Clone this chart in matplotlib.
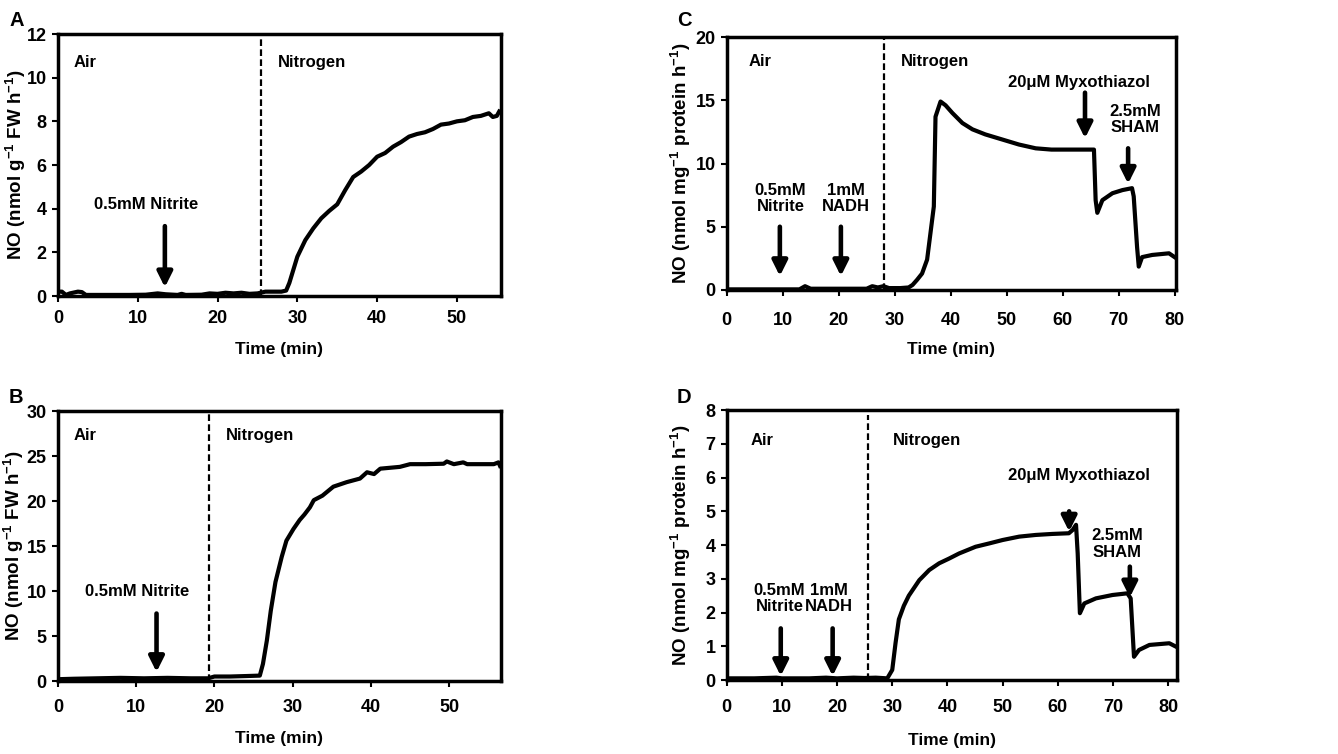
import matplotlib
matplotlib.use("Agg")
import matplotlib.pyplot as plt
from matplotlib import font_manager as fm

names = {f.name for f in fm.fontManager.ttflist}
NARROW = "Liberation Sans Narrow" if "Liberation Sans Narrow" in names else "Liberation Sans"
MAIN = "Liberation Sans"
plt.rcParams["font.family"] = [MAIN, "DejaVu Sans"]
plt.rcParams["font.weight"] = "bold"
plt.rcParams["mathtext.fontset"] = "custom"
plt.rcParams["mathtext.rm"] = "Liberation Sans:bold"
plt.rcParams["mathtext.bf"] = "Liberation Sans:bold"
plt.rcParams["mathtext.default"] = "bf"

# ---------------- data ----------------
# Panel A
a_t = [0, 0.5, 1.0, 1.5, 2.5, 3.0, 3.5, 5, 7, 9, 11, 12.5, 13.5, 15, 15.5, 16, 18, 19, 20, 21, 22, 23, 24, 25, 25.4,
       26, 27, 28, 28.6, 29.0, 29.5, 30, 31, 32, 33, 34, 35, 36, 37, 38, 39, 40, 41, 42, 43, 44, 45, 46, 47, 48,
       49, 50, 51, 52, 53, 54, 54.5, 55.0, 55.3]
a_y = [0.2, 0.2, 0.05, 0.12, 0.2, 0.18, 0.05, 0.05, 0.05, 0.05, 0.06, 0.12, 0.08, 0.05, 0.1, 0.05, 0.06, 0.12, 0.1,
       0.15, 0.12, 0.15, 0.1, 0.12, 0.15, 0.2, 0.2, 0.2, 0.25, 0.6, 1.2, 1.8, 2.56, 3.1, 3.56, 3.9, 4.2, 4.85, 5.45,
       5.7, 6.0, 6.38, 6.55, 6.84, 7.05, 7.3, 7.42, 7.5, 7.65, 7.85, 7.9, 8.0, 8.05, 8.2, 8.25, 8.37, 8.2, 8.25, 8.45]
a_dash = 25.4

# Panel B
b_t = [0, 2, 5, 8, 11, 14, 17, 19.2, 20, 22, 24, 25.8, 26.2, 26.7, 27.2, 27.8, 28.6, 29.2, 30.1, 30.9, 31.5, 32.2,
       32.7, 33.8, 35.2, 36.9, 38.6, 39.5, 40.4, 41.2, 43.7, 45.0, 47, 49.3, 49.7, 50.6, 51.8, 52.3, 54, 55.7, 56.3, 56.5]
b_y = [0.2, 0.25, 0.3, 0.35, 0.3, 0.35, 0.3, 0.3, 0.5, 0.5, 0.55, 0.6, 1.9, 4.5, 7.8, 11.0, 13.8, 15.6, 16.9, 17.9,
       18.5, 19.3, 20.1, 20.6, 21.6, 22.1, 22.5, 23.2, 23.0, 23.6, 23.8, 24.1, 24.1, 24.15, 24.4, 24.1, 24.3, 24.1,
       24.1, 24.1, 24.3, 23.9]
b_dash = 19.25

# Panel C
c_t = [0, 5, 10, 13, 14, 15, 20, 25, 26, 27, 28, 29, 31, 32.5, 33.2, 34.0, 34.9, 35.8, 36.4, 37.0, 37.3, 37.9, 38.2,
       39.1, 40.3, 42.1, 43.9, 46.2, 49.2, 52.2, 55.2, 58, 61.1, 63, 65.6, 65.9, 66.2, 67.1, 68.9, 70.7, 72.4, 72.7,
       73.3, 73.6, 74.2, 76, 79, 80]
c_y = [0.05, 0.05, 0.05, 0.05, 0.3, 0.1, 0.1, 0.1, 0.3, 0.2, 0.3, 0.15, 0.15, 0.2, 0.4, 0.8, 1.3, 2.4, 4.5, 6.6, 13.7,
       14.5, 14.9, 14.6, 14.0, 13.2, 12.7, 12.3, 11.9, 11.5, 11.2, 11.1, 11.1, 11.1, 11.1, 7.1, 6.1, 7.1, 7.65, 7.9,
       8.05, 7.4, 3.4, 1.85, 2.6, 2.77, 2.9, 2.6]
c_dash = 28.1

# Panel D
d_t = [0, 5, 9, 10, 15, 18, 20, 23, 25, 27, 29.1, 30.0, 30.6, 31.2, 32.1, 33.0, 34.9, 36.7, 38.5, 40.3, 42.1, 45.1,
       47.6, 50, 53, 56, 59, 62, 62.7, 63.3, 63.6, 64.0, 64.8, 66.9, 69.9, 72.6, 73.2, 73.8, 74.7, 76.6, 80.2, 81.4]
d_y = [0.05, 0.05, 0.07, 0.05, 0.05, 0.07, 0.05, 0.07, 0.06, 0.07, 0.05, 0.3, 1.1, 1.8, 2.2, 2.5, 2.96, 3.26, 3.46,
       3.6, 3.75, 3.95, 4.05, 4.15, 4.25, 4.3, 4.33, 4.35, 4.45, 4.6, 3.75, 1.98, 2.27, 2.42, 2.52, 2.57, 2.42, 0.69,
       0.89, 1.04, 1.09, 0.99]
d_dash = 25.6

ylab_fw = r"NO (nmol g$^{-1}$ FW h$^{-1}$)"
ylab_pr = r"NO (nmol mg$^{-1}$ protein h$^{-1}$)"

fig = plt.figure(figsize=(13.38, 7.54), dpi=100)

axA = fig.add_axes([0.0433, 0.6074, 0.331, 0.3475])
axC = fig.add_axes([0.5431, 0.6154, 0.3356, 0.3355])
axB = fig.add_axes([0.0433, 0.0968, 0.331, 0.358])
axD = fig.add_axes([0.5431, 0.0981, 0.3366, 0.358])

def style(ax, xlim, ylim, yticks, xticks, ylabel, xpad, ylab_x, xlab_y):
    ax.set_xlim(*xlim)
    ax.set_ylim(*ylim)
    ax.set_xticks(xticks)
    ax.set_yticks(yticks)
    for s in ax.spines.values():
        s.set_linewidth(2.5)
    ax.tick_params(direction="out", length=4.5, width=1.5, labelsize=13)
    ax.tick_params(axis="x", pad=xpad)
    for lab in ax.get_xticklabels() + ax.get_yticklabels():
        lab.set_family(NARROW)
        lab.set_fontweight("bold")
    ax.set_xlabel("Time (min)", fontsize=12.5, fontweight="bold")
    ax.set_ylabel(ylabel, fontsize=13.5, fontweight="bold")
    ax.yaxis.set_label_coords(ylab_x, 0.5)
    ax.xaxis.set_label_coords(0.5, xlab_y)

def arrow(ax, x, y0, y1):
    ax.annotate("", xy=(x, y1), xytext=(x, y0),
                arrowprops=dict(arrowstyle="-|>,head_length=0.9,head_width=0.45", lw=3.3, color="k",
                                shrinkA=0, shrinkB=0))

TXT = dict(fontsize=12, fontweight="bold")
DASH = (0, (3, 1.5))

# A
axA.plot(a_t, a_y, color="k", lw=3)
axA.axvline(a_dash, color="k", lw=1.6, ls=DASH)
style(axA, (0, 55.5), (0, 12), range(0, 13, 2), range(0, 51, 10), ylab_fw, 5.5, -0.068, -0.175)
axA.text(2.0, 10.7, "Air", va="center", **TXT)
axA.text(27.5, 10.7, "Nitrogen", va="center", **TXT)
axA.text(11.1, 4.17, "0.5mM Nitrite", ha="center", va="center", **TXT)
arrow(axA, 13.4, 3.2, 0.4)

# B
axB.plot(b_t, b_y, color="k", lw=3)
axB.axvline(b_dash, color="k", lw=1.6, ls=DASH)
style(axB, (0, 56.6), (0, 30), range(0, 31, 5), range(0, 51, 10), ylab_fw, 8.5, -0.072, -0.185)
axB.text(2.0, 27.3, "Air", va="center", **TXT)
axB.text(21.5, 27.3, "Nitrogen", va="center", **TXT)
axB.text(10.1, 9.9, "0.5mM Nitrite", ha="center", va="center", **TXT)
arrow(axB, 12.6, 7.5, 1.0)

# C
axC.plot(c_t, c_y, color="k", lw=3)
axC.axvline(c_dash, color="k", lw=1.6, ls=DASH)
style(axC, (0, 80.2), (0, 20), range(0, 21, 5), range(0, 81, 10), ylab_pr, 11, -0.075, -0.205)
axC.text(4.0, 18.1, "Air", va="center", **TXT)
axC.text(31.2, 18.1, "Nitrogen", va="center", **TXT)
axC.text(9.6, 7.25, "0.5mM\nNitrite", ha="center", va="center", linespacing=1.1, **TXT)
axC.text(21.3, 7.25, "1mM\nNADH", ha="center", va="center", linespacing=1.1, **TXT)
axC.text(62.9, 16.4, "20\u03bcM Myxothiazol", ha="center", va="center", **TXT)
axC.text(73.0, 13.5, "2.5mM\nSHAM", ha="center", va="center", linespacing=1.1, **TXT)
arrow(axC, 9.5, 5.0, 1.1)
arrow(axC, 20.4, 5.0, 1.1)
arrow(axC, 64.0, 15.6, 12.0)
arrow(axC, 71.7, 11.2, 8.4)

# D
axD.plot(d_t, d_y, color="k", lw=3)
axD.plot([d_dash, d_dash], [0, 7.85], color="k", lw=1.6, ls=DASH)
style(axD, (0, 81.6), (0, 8), range(0, 9, 1), range(0, 81, 10), ylab_pr, 9.5, -0.075, -0.195)
axD.text(4.35, 7.1, "Air", va="center", **TXT)
axD.text(30.2, 7.1, "Nitrogen", va="center", **TXT)
axD.text(9.6, 2.42, "0.5mM\nNitrite", ha="center", va="center", linespacing=1.1, **TXT)
axD.text(18.6, 2.42, "1mM\nNADH", ha="center", va="center", linespacing=1.1, **TXT)
axD.text(63.9, 6.07, "20\u03bcM Myxothiazol", ha="center", va="center", **TXT)
axD.text(70.8, 4.03, "2.5mM\nSHAM", ha="center", va="center", linespacing=1.1, **TXT)
arrow(axD, 9.8, 1.53, 0.12)
arrow(axD, 19.2, 1.53, 0.12)
arrow(axD, 62.05, 5.0, 4.4)
arrow(axD, 73.05, 3.36, 2.45)

# panel letters
for letter, x, y in [("A", 9, 11), ("C", 677, 11), ("B", 9, 388), ("D", 677, 388)]:
    fig.text(x / 1338, 1 - y / 754, letter, fontsize=14.5, fontweight="bold", ha="left", va="top")

fig.savefig("out.png", dpi=100)
